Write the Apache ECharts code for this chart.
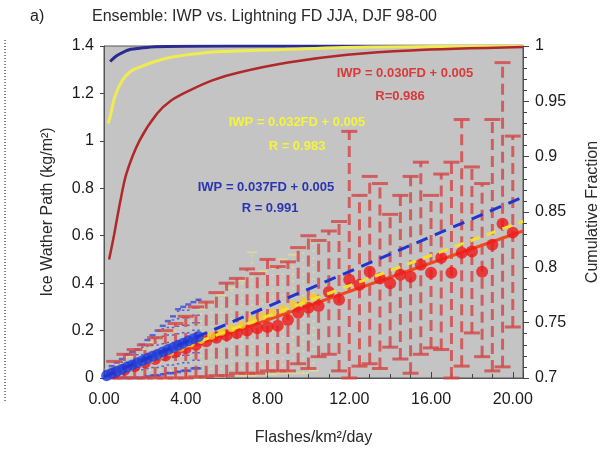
<!DOCTYPE html>
<html lang="en">
<head>
<meta charset="UTF-8">
<title>IWP vs Lightning FD</title>
<script src="https://cdn.jsdelivr.net/npm/echarts@6/dist/echarts.min.js"></script>
<style>
  html, body { margin: 0; padding: 0; background: #fff; }
  #app { width: 616px; height: 455px; }
</style>
</head>
<body>
<div id="app"></div>
<script>
// ---- data ----
// red bins (main ensemble), mean with +/- spread
var redX = [0.5, 1, 1.5, 2, 2.5, 3, 3.5, 4, 4.5, 5, 5.5, 6, 6.5, 7, 7.5, 8, 8.5, 9, 9.5, 10,
            10.5, 11, 11.5, 12, 12.5, 13, 13.5, 14, 14.5, 15, 15.5, 16, 16.5, 17, 17.5, 18, 18.5, 19, 19.5, 20];
var redY = [0.02, 0.035, 0.05, 0.065, 0.08, 0.095, 0.11, 0.125, 0.14, 0.155, 0.17, 0.18, 0.19, 0.2, 0.21, 0.215, 0.22, 0.245, 0.275, 0.296,
            0.304, 0.363, 0.33, 0.414, 0.393, 0.448, 0.42, 0.40, 0.435, 0.427, 0.478, 0.444, 0.507, 0.444, 0.528, 0.533, 0.448, 0.562, 0.65, 0.613];
var redHi = [0.07, 0.1, 0.12, 0.14, 0.17, 0.2, 0.23, 0.26, 0.3, 0.32, 0.36, 0.4, 0.42, 0.46, 0.44, 0.5, 0.47, 0.49, 0.55, 0.6,
             0.58, 0.62, 0.66, 1.04, 0.77, 0.85, 0.82, 0.69, 0.77, 0.85, 0.91, 0.77, 0.86, 0.91, 1.09, 0.89, 0.82, 1.09, 1.33, 1.02];
var redLo = [0, 0, 0, 0, 0, 0, 0, 0, 0.005, 0.005, 0.01, 0.01, 0.02, 0.02, 0.02, 0.03, 0.03, 0.03, 0.06, 0.04,
             0.09, 0.1, 0.03, 0, 0.05, 0.06, 0.04, 0.13, 0.08, 0.02, 0.1, 0.127, 0.12, 0, 0.05, 0.19, 0.09, 0.03, 0.047, 0.215];

// yellow bins
var yelX = [0.25, 0.75, 1.25, 1.75, 2.25, 2.75, 3.25, 3.75, 4.25, 4.75, 5.25, 5.75, 6.25, 6.75, 7.25, 7.75, 8.25, 8.75, 9.25, 9.75, 10.25];
var yelY = [0.013, 0.03, 0.045, 0.062, 0.078, 0.095, 0.11, 0.128, 0.145, 0.16, 0.178, 0.195, 0.21, 0.225, 0.245, 0.26, 0.275, 0.292, 0.31, 0.325, 0.342];
var yelHi = [0.035, 0.06, 0.09, 0.12, 0.15, 0.17, 0.2, 0.23, 0.26, 0.29, 0.32, 0.35, 0.38, 0.41, 0.53, 0.45, 0.47, 0.5, 0.52, 0.55, 0.58];
var yelLo = [0, 0, 0, 0, 0, 0, 0, 0, 0, 0, 0.005, 0.005, 0.01, 0.01, 0.01, 0.015, 0.015, 0.02, 0.02, 0.02, 0.03];

// blue bins
var bluX = [0.125, 0.375, 0.625, 0.875, 1.125, 1.375, 1.625, 1.875, 2.125, 2.375, 2.625, 2.875, 3.125, 3.375, 3.625, 3.875, 4.125, 4.375, 4.625];
var bluY = [0.01, 0.02, 0.028, 0.037, 0.046, 0.055, 0.064, 0.073, 0.082, 0.092, 0.1, 0.11, 0.12, 0.128, 0.138, 0.147, 0.157, 0.166, 0.175];
var bluHi = [0.03, 0.05, 0.065, 0.08, 0.1, 0.11, 0.12, 0.14, 0.16, 0.18, 0.2, 0.22, 0.24, 0.26, 0.29, 0.3, 0.31, 0.32, 0.33];
var bluLo = [0, 0, 0, 0, 0, 0, 0, 0, 0.005, 0.01, 0.01, 0.015, 0.02, 0.02, 0.025, 0.03, 0.03, 0.04, 0.04];

// linear fits (end points)
var fitBlue = [[0, 0.005], [20.5, 0.763]];
var fitYellow = [[0, 0.005], [20.5, 0.661]];
var fitRed = [[0, 0.005], [20.5, 0.62]];

// cumulative fraction curves (right axis)
var cumBlue = [[0.3, 0.986], [0.6, 0.991], [0.9, 0.994], [1.3, 0.997], [1.75, 0.998], [2.5, 0.9993], [4, 0.9998], [8, 1], [20.5, 1]];
var cumYellow = [[0.2, 0.93], [0.3, 0.936], [0.53, 0.954], [0.9, 0.969], [1.3, 0.977], [1.75, 0.981], [2.5, 0.986], [3.35, 0.99],
                 [4.5, 0.993], [5.8, 0.995], [9, 0.997], [13, 0.999], [20.5, 1]];
var cumRed = [[0.25, 0.807], [0.5, 0.83], [0.8, 0.86], [1.1, 0.885], [1.75, 0.915], [2.6, 0.939], [3.3, 0.951], [4.2, 0.96],
              [5.3, 0.969], [6.6, 0.976], [9, 0.985], [11.9, 0.992], [15, 0.996], [20.5, 0.999]];

var xTicks = [0, 4, 8, 12, 16, 20];

function zip(xs, ys) {
    var out = [];
    for (var i = 0; i < xs.length; i++) out.push([xs[i], ys[i]]);
    return out;
}
function zip3(xs, lo, hi) {
    var out = [];
    for (var i = 0; i < xs.length; i++) out.push([xs[i], lo[i], hi[i]]);
    return out;
}

// vertical error bar with caps
function errBars(data, color, width, dash, cap, z) {
    return {
        type: 'custom',
        z: z,
        data: data,
        encode: { x: 0, y: [1, 2] },
        renderItem: function (params, api) {
            var x = api.value(0);
            var p1 = api.coord([x, api.value(1)]);
            var p2 = api.coord([x, api.value(2)]);
            var st = { stroke: color, lineWidth: width, lineDash: dash };
            var capSt = { stroke: color, lineWidth: width };
            return {
                type: 'group',
                children: [
                    { type: 'line', shape: { x1: p1[0], y1: p1[1], x2: p2[0], y2: p2[1] }, style: st },
                    { type: 'line', shape: { x1: p1[0] - cap, y1: p1[1], x2: p1[0] + cap, y2: p1[1] }, style: capSt },
                    { type: 'line', shape: { x1: p2[0] - cap, y1: p2[1], x2: p2[0] + cap, y2: p2[1] }, style: capSt }
                ]
            };
        }
    };
}

var FONT = "'Liberation Sans', Arial, sans-serif";
var myChart = echarts.init(document.getElementById('app'));

var option = {
    animation: false,
    backgroundColor: '#ffffff',
    textStyle: { fontFamily: FONT },
    grid: {
        left: 104, right: 93, top: 46, bottom: 77,
        show: true, backgroundColor: '#c4c4c4', borderColor: '#555', borderWidth: 1
    },
    graphic: [
        { type: 'text', left: 30, top: 9, style: { text: 'a)', font: '16px ' + FONT, fill: '#222' } },
        { type: 'text', left: 92, top: 9, style: { text: 'Ensemble: IWP vs. Lightning FD JJA, DJF 98-00', font: '16px ' + FONT, fill: '#2a2a2a' } },
        { type: 'line', shape: { x1: 5, y1: 40, x2: 5, y2: 402 }, style: { stroke: '#888', lineWidth: 2, lineDash: [1, 2] } },
        { type: 'text', x: 405, y: 73, style: { text: 'IWP = 0.030FD + 0.005', font: 'bold 13px ' + FONT, fill: '#d83a3a', align: 'center', verticalAlign: 'middle' }, z: 50 },
        { type: 'text', x: 400, y: 96, style: { text: 'R=0.986', font: 'bold 13px ' + FONT, fill: '#d83a3a', align: 'center', verticalAlign: 'middle' }, z: 50 },
        { type: 'text', x: 297, y: 122, style: { text: 'IWP = 0.032FD + 0.005', font: 'bold 13px ' + FONT, fill: '#f4f43c', align: 'center', verticalAlign: 'middle' }, z: 50 },
        { type: 'text', x: 297, y: 146, style: { text: 'R = 0.983', font: 'bold 13px ' + FONT, fill: '#f4f43c', align: 'center', verticalAlign: 'middle' }, z: 50 },
        { type: 'text', x: 266, y: 187, style: { text: 'IWP = 0.037FD + 0.005', font: 'bold 13px ' + FONT, fill: '#2a35b0', align: 'center', verticalAlign: 'middle' }, z: 50 },
        { type: 'text', x: 270, y: 208, style: { text: 'R = 0.991', font: 'bold 13px ' + FONT, fill: '#2a35b0', align: 'center', verticalAlign: 'middle' }, z: 50 }
    ],
    xAxis: {
        type: 'value',
        min: 0, max: 20.5, interval: 4,
        name: 'Flashes/km²/day',
        nameLocation: 'middle', nameGap: 52,
        nameTextStyle: { fontSize: 16, color: '#2a2a2a', fontFamily: FONT },
        axisLine: { show: true, lineStyle: { color: '#555' } },
        axisTick: { show: true, inside: true, length: 6, lineStyle: { color: '#444' } },
        minorTick: { show: true, splitNumber: 4, length: 4, lineStyle: { color: '#444' } },
        splitLine: { show: false },
        axisLabel: {
            fontSize: 16, color: '#1a1a1a', fontFamily: FONT, margin: 14, showMaxLabel: false,
            formatter: function (v) { return xTicks.indexOf(v) >= 0 ? v.toFixed(2) : ''; }
        }
    },
    yAxis: [{
        type: 'value',
        min: 0, max: 1.4, interval: 0.2,
        name: 'Ice Wather Path (kg/m²)',
        nameLocation: 'middle', nameGap: 48, nameRotate: 90,
        nameTextStyle: { fontSize: 16, color: '#2a2a2a', fontFamily: FONT },
        axisLine: { show: true, lineStyle: { color: '#555' } },
        axisTick: { show: true, length: 4, lineStyle: { color: '#444' } },
        splitLine: { show: false },
        axisLabel: { fontSize: 16, color: '#1a1a1a', fontFamily: FONT, margin: 10 }
    }, {
        type: 'value',
        min: 0.7, max: 1, interval: 0.05,
        position: 'right',
        name: 'Cumulative Fraction',
        nameLocation: 'middle', nameGap: 62, nameRotate: 90,
        nameTextStyle: { fontSize: 16, color: '#2a2a2a', fontFamily: FONT },
        axisLine: { show: true, lineStyle: { color: '#555' } },
        axisTick: { show: true, length: 6, lineStyle: { color: '#444' } },
        minorTick: { show: true, splitNumber: 5, length: 4, lineStyle: { color: '#444' } },
        splitLine: { show: false },
        axisLabel: { fontSize: 16, color: '#1a1a1a', fontFamily: FONT, margin: 12 }
    }],
    series: [
        errBars(zip3(yelX, yelLo, yelHi), 'rgba(235,228,130,0.6)', 2, [2, 5], 5, 2),
        errBars(zip3(bluX, bluLo, bluHi), 'rgba(40,60,220,0.7)', 2.5, [1.5, 6], 3, 3),
        errBars(zip3(redX, redLo, redHi), 'rgba(212,72,72,0.82)', 3, [11, 6], 8, 4),
        {
            type: 'line', data: fitRed, symbol: 'none', z: 5,
            lineStyle: { color: '#f04a1a', width: 3 }
        },
        {
            type: 'scatter', data: zip(redX, redY), symbol: 'circle', symbolSize: 12, z: 6,
            itemStyle: { color: '#f01818' }
        },
        {
            type: 'scatter', data: zip(yelX, yelY), symbol: 'circle', symbolSize: 8, z: 7,
            itemStyle: { color: '#f8c828' }
        },
        {
            type: 'line', data: fitYellow, symbol: 'none', z: 8,
            lineStyle: { color: '#f2e030', width: 3, type: [10, 7] }
        },
        {
            type: 'scatter', data: zip(bluX, bluY), symbol: 'circle', symbolSize: 11, z: 9,
            itemStyle: { color: '#1f3de0' }
        },
        {
            type: 'line', data: fitBlue, symbol: 'none', z: 10,
            lineStyle: { color: '#2035d0', width: 3, type: [12, 8] }
        },
        {
            type: 'line', yAxisIndex: 1, data: cumBlue, symbol: 'none', smooth: 0.3, z: 11,
            lineStyle: { color: '#2a2a90', width: 3 }
        },
        {
            type: 'line', yAxisIndex: 1, data: cumYellow, symbol: 'none', smooth: 0.3, z: 12,
            lineStyle: { color: '#f0ec50', width: 3 }
        },
        {
            type: 'line', yAxisIndex: 1, data: cumRed, symbol: 'none', smooth: 0.3, z: 13,
            lineStyle: { color: '#b02828', width: 2.5 }
        }
    ]
};
myChart.setOption(option);
</script>
</body>
</html>
